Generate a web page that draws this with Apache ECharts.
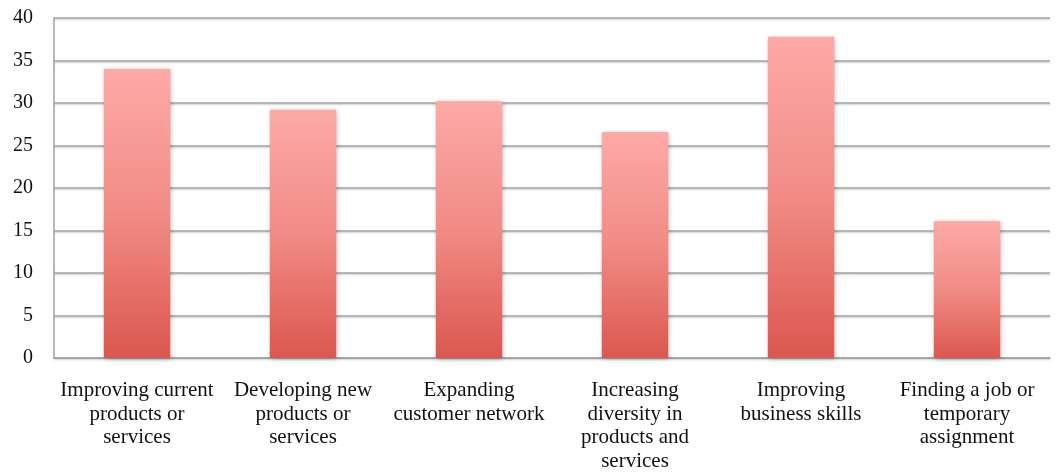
<!DOCTYPE html>
<html>
<head>
<meta charset="utf-8">
<script src="https://cdn.jsdelivr.net/npm/echarts@6/dist/echarts.min.js"></script>
<style>
  html, body { margin: 0; padding: 0; background: #fff; }
  #chart { width: 1056px; height: 473px; }
</style>
</head>
<body>
<div id="chart"></div>
<script>
// Categories (tick labels broken into lines as displayed)
const categories = [
  'Improving current\nproducts or\nservices',
  'Developing new\nproducts or\nservices',
  'Expanding\ncustomer network',
  'Increasing\ndiversity in\nproducts and\nservices',
  'Improving\nbusiness skills',
  'Finding a job or\ntemporary\nassignment'
];
const values = [34.0, 29.2, 30.2, 26.6, 37.8, 16.1];
const yTicks = { min: 0, max: 40, interval: 5 };

const chart = echarts.init(document.getElementById('chart'));
const serif = '"Liberation Serif", "DejaVu Serif", serif';

chart.setOption({
  animation: false,
  grid: { left: 54, right: 6, top: 18, bottom: 114, containLabel: false },
  xAxis: {
    type: 'category',
    data: categories,
    axisLine: { show: true, lineStyle: { color: '#a0a0a0', width: 1.5 } },
    axisTick: { show: false },
    axisLabel: {
      interval: 0,
      color: '#111',
      fontFamily: serif,
      fontSize: 21,
      lineHeight: 23.5,
      margin: 21,
      align: 'center'
    }
  },
  yAxis: {
    type: 'value',
    min: yTicks.min,
    max: yTicks.max,
    interval: yTicks.interval,
    axisLine: { show: true, lineStyle: { color: '#a0a0a0', width: 1.5 } },
    axisTick: { show: false },
    axisLabel: {
      color: '#111',
      fontFamily: serif,
      fontSize: 20,
      margin: 21
    },
    splitLine: {
      show: true,
      lineStyle: {
        color: '#a4a4a4',
        width: 1.5,
        shadowColor: 'rgba(0,0,0,0.25)',
        shadowBlur: 2,
        shadowOffsetY: 1
      }
    }
  },
  series: [{
    type: 'bar',
    data: values,
    barCategoryGap: '60%',
    itemStyle: {
      color: new echarts.graphic.LinearGradient(0, 0, 0, 1, [
        { offset: 0, color: '#fdaaa7' },
        { offset: 0.5, color: '#f18b85' },
        { offset: 1, color: '#db574f' }
      ]),
      shadowColor: 'rgba(0,0,0,0.3)',
      shadowBlur: 5,
      shadowOffsetX: 1,
      shadowOffsetY: 1
    }
  }]
});
</script>
</body>
</html>
